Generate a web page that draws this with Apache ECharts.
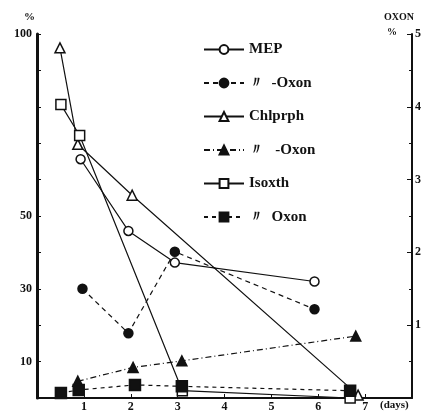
<!DOCTYPE html>
<html><head><meta charset="utf-8">
<script src="https://cdn.jsdelivr.net/npm/echarts@6/dist/echarts.min.js"></script>
<style>html,body{margin:0;padding:0;background:#fff}#c{width:425px;height:413px}</style>
</head><body><div id="c"></div>
<script>
// Days / values
const mepDays = [0.93, 1.95, 2.94, 5.92];
const mepVals = [65.6, 45.9, 37.2, 32.0];
const mepOxonDays = [0.97, 1.95, 2.94, 5.92];
const mepOxonVals = [1.50, 0.89, 2.01, 1.22];
const chlDays = [0.49, 0.87, 2.03, 6.85];
const chlVals = [96.2, 69.7, 55.7, 0.8];
const chlOxonDays = [0.87, 2.05, 3.09, 6.80];
const chlOxonVals = [0.23, 0.42, 0.51, 0.85];
const isoDays = [0.51, 0.91, 3.10, 6.68];
const isoVals = [80.6, 72.1, 2.0, 0.0];
const isoOxonDays = [0.51, 0.89, 2.09, 3.09, 6.68];
const isoOxonVals = [0.07, 0.11, 0.18, 0.16, 0.10];
const leftLabels = [10, 30, 50, 100];
const rightLabels = [1, 2, 3, 4, 5];
const xLabels = [1, 2, 3, 4, 5, 6, 7];
const names = ['MEP', '〃  -Oxon', 'Chlprph', '〃   -Oxon', 'Isoxth', '〃  Oxon'];

const zip = (a, b) => a.map((d, i) => [d, b[i]]);
const FONT = '"Liberation Serif", "DejaVu Serif", serif';
const tri = 'path://M0,10 L5,0 L10,10 Z';

function ser(name, days, vals, axis, symbol, filled, lineType, size) {
  return {
    name, type: 'line', yAxisIndex: axis, data: zip(days, vals),
    symbol, symbolSize: size,
    lineStyle: { color: '#111', width: 1.2, type: lineType },
    itemStyle: { color: filled ? '#111' : '#fff', borderColor: '#111', borderWidth: 1.5 },
    z: 3
  };
}

const chart = echarts.init(document.getElementById('c'), null, { renderer: 'canvas' });
chart.setOption({
  animation: false,
  backgroundColor: '#fff',
  grid: { left: 37, right: 13, top: 34, bottom: 13 },
  legend: {
    orient: 'vertical', left: 198, top: 37, itemGap: 18.5, itemWidth: 40, itemHeight: 11,
    textStyle: { fontFamily: FONT, fontSize: 15, fontWeight: 'bold', color: '#111' },
    data: names
  },
  xAxis: {
    type: 'value', min: 0, max: 8, interval: 1,
    axisLine: { lineStyle: { color: '#111', width: 2 } },
    axisTick: { inside: true, length: 4, lineStyle: { color: '#111' } },
    splitLine: { show: false },
    axisLabel: {
      margin: 3, fontFamily: FONT, fontSize: 12, fontWeight: 'bold', color: '#111',
      formatter: v => xLabels.includes(v) ? String(v) : ''
    }
  },
  yAxis: [
    {
      type: 'value', min: 0, max: 100, interval: 10,
      axisLine: { show: true, lineStyle: { color: '#111', width: 3 } },
      axisTick: { show: true, inside: true, length: 4, lineStyle: { color: '#111' } },
      splitLine: { show: false },
      axisLabel: {
        margin: 5, fontFamily: FONT, fontSize: 12, fontWeight: 'bold', color: '#111',
        formatter: v => leftLabels.includes(v) ? String(v) : ''
      }
    },
    {
      type: 'value', min: 0, max: 5, interval: 1, position: 'right',
      axisLine: { show: true, lineStyle: { color: '#111', width: 2 } },
      axisTick: { show: true, inside: true, length: 5, lineStyle: { color: '#111' } },
      minorTick: { show: true, splitNumber: 2, length: 3, lineStyle: { color: '#111' } },
      splitLine: { show: false },
      axisLabel: {
        margin: 3, fontFamily: FONT, fontSize: 12, fontWeight: 'bold', color: '#111',
        formatter: v => rightLabels.includes(v) ? String(v) : ''
      }
    }
  ],
  graphic: [
    { type: 'text', left: 24, top: 12, style: { text: '%', font: 'bold 11px ' + FONT, fill: '#111' } },
    { type: 'text', left: 384, top: 12, style: { text: 'OXON', font: 'bold 10px ' + FONT, fill: '#111' } },
    { type: 'text', left: 387, top: 27, style: { text: '%', font: 'bold 10px ' + FONT, fill: '#111' } },
    { type: 'text', left: 380, top: 400, style: { text: '(days)', font: 'bold 11px ' + FONT, fill: '#111' } }
  ],
  series: [
    ser(names[0], mepDays, mepVals, 0, 'circle', false, 'solid', 9),
    ser(names[1], mepOxonDays, mepOxonVals, 1, 'circle', true, [5, 4], 9),
    ser(names[2], chlDays, chlVals, 0, tri, false, 'solid', 10),
    ser(names[3], chlOxonDays, chlOxonVals, 1, tri, true, [6, 3, 1, 3], 10),
    ser(names[4], isoDays, isoVals, 0, 'rect', false, 'solid', 10),
    ser(names[5], isoOxonDays, isoOxonVals, 1, 'rect', true, [4, 4], 11)
  ]
});
</script></body></html>
